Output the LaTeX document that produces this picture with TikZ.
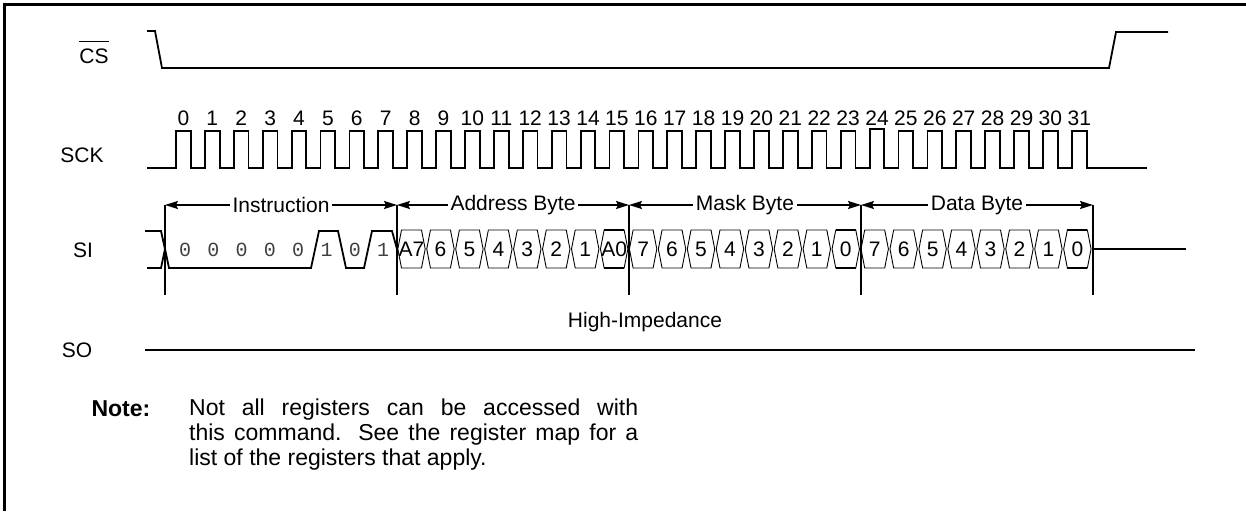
\documentclass[tikz,border=0pt]{standalone}
\usepackage{fontspec}
\setmainfont{Liberation Sans}
\newfontfamily\bitfont{Liberation Mono}
\usetikzlibrary{arrows.meta}
\tikzset{>={Stealth[length=13pt,width=8pt,inset=2pt]},
 every node/.style={font=\fontsize{21}{25}\selectfont},
 wavefm/.style={line width=1.8pt},
 bitcell/.style={line width=0.9pt},
 bytebar/.style={line width=1.8pt},
 bytespan/.style={line width=1.6pt,<->},
 bitlbl/.style={font=\fontsize{20}{24}\bitfont,text=black!75},
 bytelbl/.style={fill=white,inner xsep=3pt,inner ysep=1pt}}
\begin{document}
\begin{tikzpicture}[x=1pt,y=-1pt]
\useasboundingbox (0,0) rectangle (1246,511);
% Cadre ouvert a droite et en bas.
\draw[line width=2.5pt] (4.5,511) -- (4.5,4.5) -- (1246,4.5);
% Noms des signaux.
\node[inner sep=0pt] (cs) at (94,56) {CS};
\draw[line width=1.3pt] ([yshift=7pt]cs.north west) -- ([yshift=7pt]cs.north east);
\node (sck) at (82,155) {SCK};
\node (si) at (83,250) {SI};
\node (so) at (77,350) {SO};
% Selection de boitier.
\draw[wavefm] (147,31) -- (155,31) -- (162,68) -- (1109,68) -- (1116,32) -- (1168,32);
% Horloge : 32 impulsions numerotees (la 24 un peu plus haute).
\draw[wavefm] (147,168) \foreach \k in {0,...,31}{ -- ({176+28.9*\k},168) -- ({176+28.9*\k},{131-2*(\k==24)})
 -- ({190.7+28.9*\k},{131-2*(\k==24)}) -- ({190.7+28.9*\k},168)} -- (1147,168);
\foreach \k in {0,...,31} \node (clk\k) at ({183.4+28.9*\k},118) {\k};
% Instruction sur SI.
\draw[wavefm] (145,231) -- (161,231) -- (165,249) (147,268) -- (161,268) -- (165,249) -- (169,268)
 -- (311,268) -- (319,231) -- (338,231) -- (346,268) -- (364,268) -- (372,231) -- (392,231) -- (397,249);
\foreach \b [count=\i from 0] in {0,0,0,0,0,1,0,1} \node[bitlbl] (ins\i) at ({185+28.3*\i},250) {\b};
% Adresse, masque et donnee : cellules hexagonales.
\foreach \lab [count=\i from 0] in {A7,6,5,4,3,2,1,A0,7,6,5,4,3,2,1,0,7,6,5,4,3,2,1,0}{
 \pgfmathsetmacro\xl{397+28.95*\i}
 \draw[bitcell] ({\xl+0.8},249) -- ({\xl+4.5},230) -- ({\xl+24.5},230) -- ({\xl+28.2},249)
  -- ({\xl+24.5},268) -- ({\xl+4.5},268) -- cycle;
 \node[inner xsep=0pt] (bit\i) at ({\xl+14.5},249) {\lab};}
\foreach \i in {7,15,23}{
 \pgfmathsetmacro\xl{397+28.95*\i}
 \draw[line width=1.6pt] ({\xl+4.5},230) -- ({\xl+24.5},230) ({\xl+4.5},268) -- ({\xl+24.5},268);}
\draw[wavefm] (1093,249) -- (1186,249);
% Limites des octets et fleches.
\foreach \j in {0,...,4}{
 \coordinate (top\j) at ({165+232*\j},205);
 \coordinate (bot\j) at ({165+232*\j},295);
 \draw[bytebar] (top\j) -- (bot\j);}
\draw[bytespan] (top0) -- (top1) node[midway,bytelbl] (lins) {Instruction};
\draw[bytespan] (top1) -- (top2) node[midway,bytelbl] (ladr) {Address Byte};
\draw[bytespan] (top2) -- (top3) node[midway,bytelbl] (lmsk) {Mask Byte};
\draw[bytespan] (top3) -- (top4) node[midway,bytelbl] (ldat) {Data Byte};
% Sortie en haute impedance.
\draw[wavefm] (145,350) -- (1195,350);
\node (hiz) at (645,322) {High-Impedance};
% Remarque.
\node[anchor=base west,font=\fontsize{23}{27}\bfseries\selectfont] (note) at (88,416) {Note:};
\node[anchor=north west,inner sep=0pt,text width=449pt,align=justify,font=\fontsize{23}{25}\selectfont] (notetxt) at (189,399)
 {Not all registers can be accessed with\linebreak this command. See the register map for a\linebreak list of the registers that apply.};
\end{tikzpicture}
\end{document}
